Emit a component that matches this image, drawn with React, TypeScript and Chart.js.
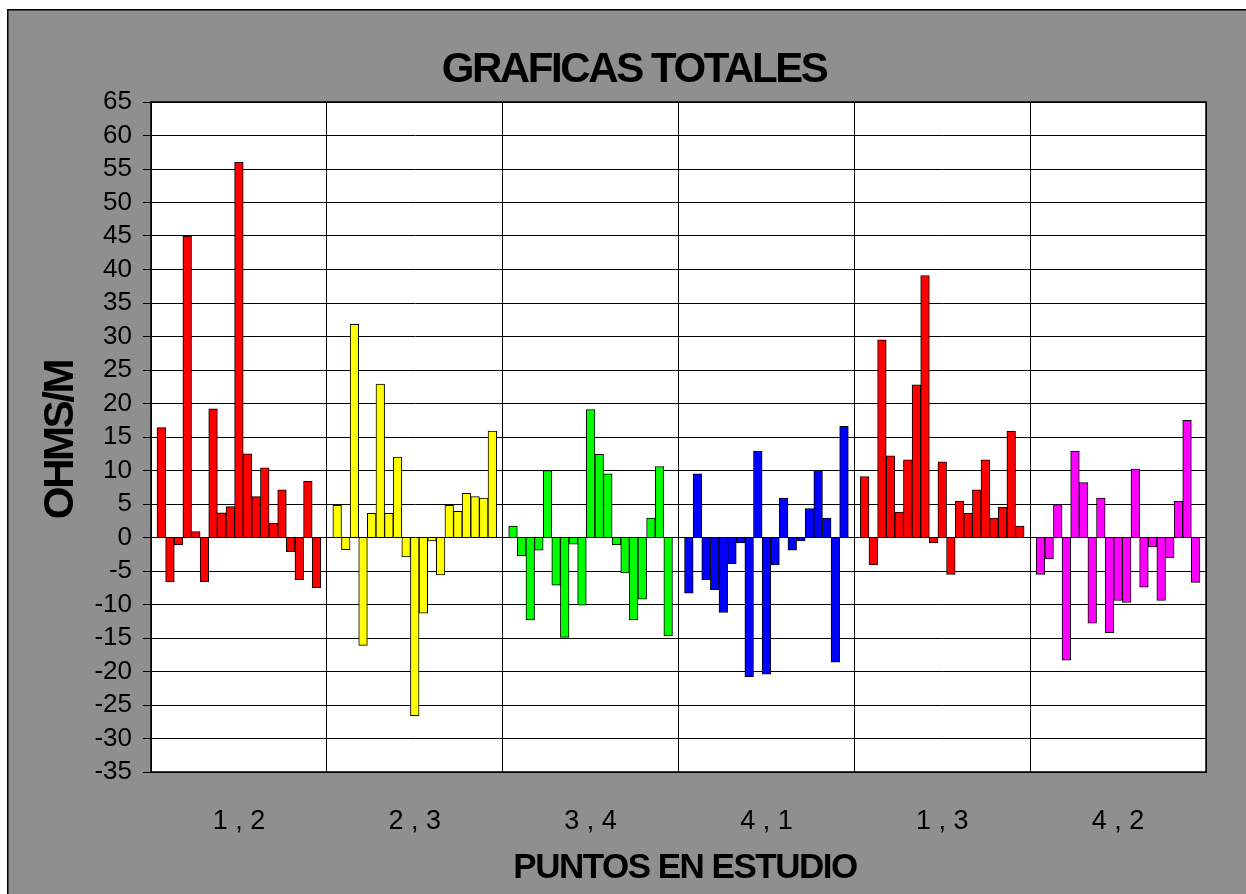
import React, { useEffect, useRef } from 'react';
import { Chart, registerables } from 'chart.js';

Chart.register(...registerables);

const TITLE = 'GRAFICAS TOTALES';
const Y_TITLE = 'OHMS/M';
const X_TITLE = 'PUNTOS EN ESTUDIO';

const GROUP_LABELS = ['1 , 2', '2 , 3', '3 , 4', '4 , 1', '1 , 3', '4 , 2'];
const GROUP_COLORS = ['#FF0000', '#FFFF00', '#00FF00', '#0000FF', '#FF0000', '#FF00FF'];

const VALUES_1_2 = [16.4, -6.6, -1.1, 45, 0.9, -6.6, 19.2, 3.7, 4.6, 56, 12.5, 6.1, 10.4, 2.1, 7.1, -2.1, -6.3, 8.4, -7.5];
const VALUES_2_3 = [4.8, -1.8, 31.8, -16.1, 3.6, 22.9, 3.6, 12, -2.9, -26.6, -11.3, -0.5, -5.6, 4.8, 3.9, 6.6, 6.1, 5.9, 15.9];
const VALUES_3_4 = [1.7, -2.7, -12.3, -1.9, 10, -7.1, -14.9, -1, -10.1, 19.1, 12.4, 9.5, -1.1, -5.3, -12.3, -9.2, 2.9, 10.6, -14.7];
const VALUES_4_1 = [-8.3, 9.5, -6.3, -7.8, -11.2, -3.9, -0.8, -20.8, 12.9, -20.4, -4.1, 5.9, -1.9, -0.5, 4.3, 10, 2.9, -18.6, 16.6];
const VALUES_1_3 = [9.1, -4.1, 29.5, 12.2, 3.8, 11.6, 22.8, 39.1, -0.8, 11.3, -5.5, 5.4, 3.6, 7.1, 11.6, 2.9, 4.5, 15.9, 1.7];
const VALUES_4_2 = [-5.5, -3.2, 4.9, -18.3, 12.9, 8.2, -12.8, 5.9, -14.2, -9.4, -9.7, 10.2, -7.4, -1.4, -9.4, -3, 5.4, 17.5, -6.7];

const Y_MIN = -35;
const Y_MAX = 65;
const Y_STEP = 5;

const GROUP_SPAN = 20.4;
const FIRST_BAR = 1.2;

const FONT = "'Liberation Sans', Arial, Helvetica, sans-serif";

export default function App() {
  const ref = useRef<HTMLCanvasElement>(null);

  useEffect(() => {
    const canvas = ref.current;
    if (!canvas) return;
    const groups = [VALUES_1_2, VALUES_2_3, VALUES_3_4, VALUES_4_1, VALUES_1_3, VALUES_4_2];
    const points: { x: number; y: number }[] = [];
    const colors: string[] = [];
    groups.forEach((vals, g) => {
      vals.forEach((v, i) => {
        points.push({ x: g * GROUP_SPAN + FIRST_BAR + i, y: v });
        colors.push(GROUP_COLORS[g]);
      });
    });
    const nGroups = GROUP_LABELS.length;
    const xTicks: { value: number }[] = [];
    for (let g = 0; g < nGroups; g++) {
      xTicks.push({ value: g * GROUP_SPAN });
      xTicks.push({ value: g * GROUP_SPAN + GROUP_SPAN / 2 });
    }
    xTicks.push({ value: nGroups * GROUP_SPAN });

    const decor = {
      id: 'decor',
      beforeDraw(chart: any) {
        const { ctx, width, height, chartArea: a } = chart;
        ctx.save();
        ctx.fillStyle = '#8f8f8f';
        ctx.fillRect(0, 0, width, height);
        ctx.fillStyle = '#000';
        ctx.fillRect(0, 0, width, 1.5);
        ctx.fillRect(0, 0, 1.5, height);
        ctx.fillStyle = '#fff';
        ctx.fillRect(a.left, a.top, a.right - a.left, a.bottom - a.top);
        ctx.restore();
      },
      afterDraw(chart: any) {
        const { ctx, chartArea: a } = chart;
        ctx.save();
        ctx.strokeStyle = '#000';
        ctx.lineWidth = 1.5;
        ctx.strokeRect(a.left, a.top, a.right - a.left, a.bottom - a.top);
        ctx.fillStyle = '#000';
        ctx.textAlign = 'center';
        ctx.textBaseline = 'alphabetic';
        ctx.font = `bold 42px ${FONT}`;
        (ctx as any).letterSpacing = '-2.4px';
        ctx.fillText(TITLE, 627, 73);
        ctx.font = `bold 35px ${FONT}`;
        (ctx as any).letterSpacing = '-1.5px';
        ctx.fillText(X_TITLE, 678, 869);
        ctx.font = `bold 42px ${FONT}`;
        (ctx as any).letterSpacing = '-2.4px';
        ctx.translate(66, 431);
        ctx.rotate(-Math.PI / 2);
        ctx.fillText(Y_TITLE, 0, 0);
        ctx.restore();
      },
    };

    const chart = new Chart(canvas, {
      type: 'bar',
      data: {
        datasets: [
          {
            data: points,
            backgroundColor: colors,
            borderColor: '#000',
            borderWidth: 1,
            barPercentage: 1,
            categoryPercentage: 1,
          } as any,
        ],
      },
      options: {
        animation: false,
        responsive: false,
        devicePixelRatio: 1,
        events: [],
        layout: { padding: { top: 93, right: 40, left: 0, bottom: 0 } },
        plugins: { legend: { display: false }, tooltip: { enabled: false }, title: { display: false } },
        scales: {
          x: {
            type: 'linear',
            offset: false,
            min: 0,
            max: nGroups * GROUP_SPAN,
            afterBuildTicks: (scale: any) => {
              scale.ticks = xTicks.map((t) => ({ ...t }));
            },
            afterFit: (scale: any) => {
              scale.height = 122;
            },
            ticks: {
              autoSkip: false,
              maxRotation: 0,
              minRotation: 0,
              padding: 33,
              color: '#000',
              font: { family: FONT, size: 27 },
              callback: (_v: any, index: number) => (index % 2 === 1 ? GROUP_LABELS[(index - 1) / 2] : ''),
            },
            grid: {
              offset: false,
              drawTicks: false,
              lineWidth: 1,
              color: (ctx: any) => (ctx.index % 2 === 0 ? '#000' : 'rgba(0,0,0,0)'),
            },
            border: { display: true, color: '#000' },
          },
          y: {
            min: Y_MIN,
            max: Y_MAX,
            afterFit: (scale: any) => {
              scale.width = 144;
            },
            ticks: {
              stepSize: Y_STEP,
              autoSkip: false,
              padding: 11,
              color: '#000',
              font: { family: FONT, size: 26 },
            },
            grid: { color: '#000', lineWidth: 1, tickLength: 8, drawTicks: true },
            border: { display: true, color: '#000' },
          },
        },
      } as any,
      plugins: [decor],
    });
    return () => chart.destroy();
  }, []);

  return (
    <canvas
      ref={ref}
      width={1239}
      height={885}
      style={{ position: 'absolute', left: 7, top: 9, width: 1239, height: 885, display: 'block' }}
    />
  );
}
